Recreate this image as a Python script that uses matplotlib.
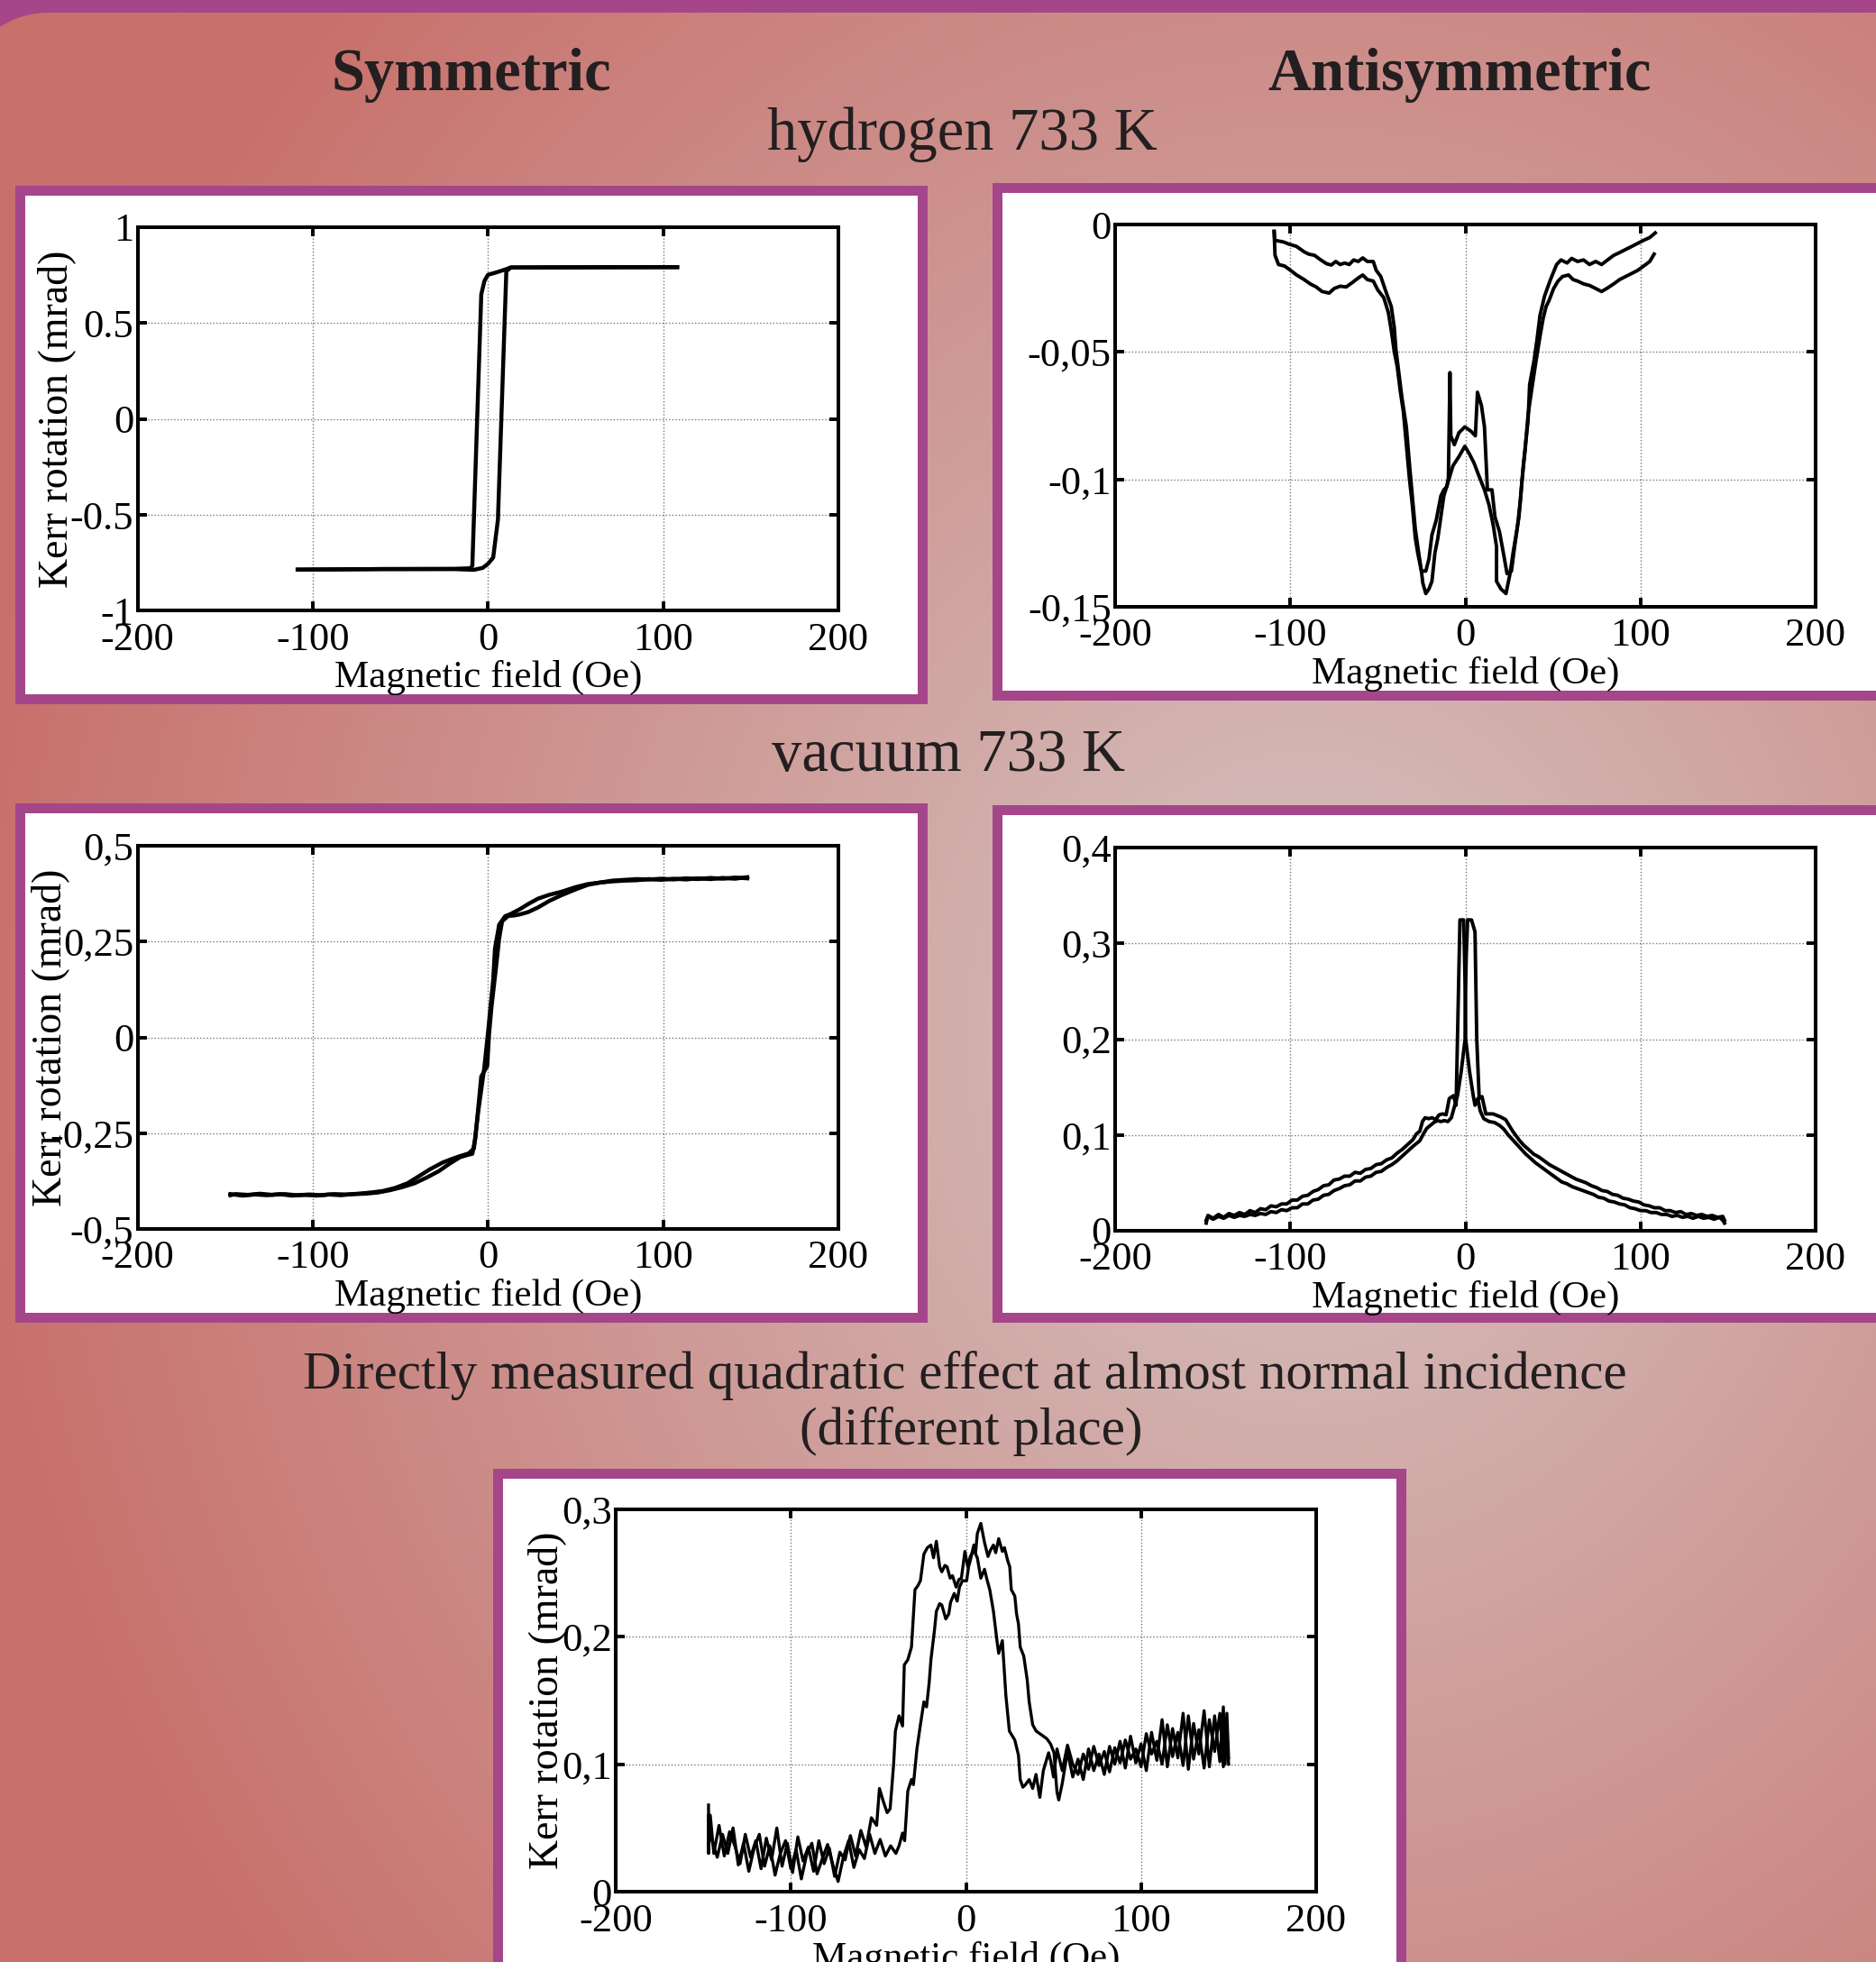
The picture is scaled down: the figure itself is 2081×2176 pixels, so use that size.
import numpy as np
import matplotlib
matplotlib.use('Agg')
import matplotlib.pyplot as plt
from matplotlib.patches import Rectangle, Polygon

plt.rcParams['font.family'] = ['Liberation Serif', 'DejaVu Serif']

# ---- data (field in Oe, Kerr rotation in mrad) ----
field_ticks = [-200, -100, 0, 100, 200]
field_labels = ['-200', '-100', '0', '100', '200']

# symmetric, hydrogen 733 K
sym_h_down = [(108, 0.792), (70, 0.791), (30, 0.790), (13, 0.790), (10, 0.780), (5, 0.765),
              (0, 0.752), (-2, 0.72), (-3.8, 0.65), (-8.9, -0.765), (-10, -0.778),
              (-20, -0.781), (-60, -0.782), (-108.6, -0.785)]
sym_h_up = [(-108.6, -0.785), (-60, -0.782), (-20, -0.782), (-8, -0.786), (-3, -0.776),
            (0, -0.755), (3, -0.722), (5.7, -0.525), (10.5, 0.77), (13, 0.79),
            (30, 0.791), (70, 0.792), (108, 0.792)]

# antisymmetric, hydrogen 733 K
anti_h_a = [(-109.2, -0.0027), (-108.9, -0.0062), (-104.1, -0.0068), (-100.7, -0.0077),
            (-96.4, -0.0086), (-92.1, -0.0107), (-89.5, -0.0116), (-86.1, -0.0121),
            (-82.6, -0.0139), (-79.2, -0.0154), (-76.6, -0.0159), (-74.0, -0.0145),
            (-71.5, -0.0157), (-68.9, -0.0151), (-66.3, -0.0157), (-63.8, -0.0139),
            (-61.2, -0.0145), (-58.6, -0.0131), (-56.0, -0.0145), (-52.6, -0.0145),
            (-50.9, -0.0180), (-48.3, -0.0204), (-45.7, -0.0257), (-42.3, -0.0322),
            (-40.6, -0.0404), (-39.7, -0.0487), (-38.0, -0.0581), (-36.3, -0.0676),
            (-33.7, -0.0794), (-32.0, -0.0935), (-30.3, -0.1065), (-28.6, -0.1194),
            (-26.9, -0.1277), (-25.1, -0.1360), (-24.3, -0.1407), (-22.6, -0.1448),
            (-20.8, -0.1430), (-19.1, -0.1400), (-17.4, -0.1289), (-15.7, -0.1230),
            (-14.0, -0.1147), (-12.3, -0.1065), (-9.7, -0.1006), (-7.1, -0.0947),
            (-3.7, -0.0911), (-0.3, -0.0870), (2.3, -0.0900), (4.9, -0.0935),
            (7.5, -0.0982), (10.9, -0.1041), (13.5, -0.1100), (16.0, -0.1183),
            (17.8, -0.1265), (17.8, -0.1400), (20.3, -0.1430), (23.2, -0.1448),
            (25.5, -0.1370), (27.2, -0.1290), (28.9, -0.1220), (30.6, -0.1147),
            (32.3, -0.1006), (34.1, -0.0888), (35.8, -0.0746), (38.3, -0.0628),
            (40.9, -0.0511), (42.6, -0.0440), (44.4, -0.0369), (46.1, -0.0322),
            (47.8, -0.0298), (50.4, -0.0251), (52.9, -0.0222), (55.5, -0.0204),
            (58.9, -0.0198), (61.5, -0.0216), (64.1, -0.0222), (67.5, -0.0233),
            (70.9, -0.0239), (74.4, -0.0251), (77.8, -0.0263), (81.2, -0.0249),
            (84.7, -0.0233), (88.1, -0.0216), (91.5, -0.0204), (95.0, -0.0192),
            (98.4, -0.0180), (101.8, -0.0163), (105.3, -0.0145), (107.8, -0.0116)]
anti_h_b = [(-109.2, -0.0027), (-108.7, -0.0121), (-106.7, -0.0157), (-103.2, -0.0163),
            (-99.8, -0.0180), (-96.4, -0.0198), (-92.1, -0.0216), (-88.6, -0.0233),
            (-85.2, -0.0245), (-81.8, -0.0263), (-77.8, -0.0269), (-74.9, -0.0251),
            (-71.5, -0.0242), (-68.1, -0.0245), (-64.6, -0.0228), (-61.2, -0.0210),
            (-58.6, -0.0198), (-56.0, -0.0216), (-52.6, -0.0222), (-50.0, -0.0257),
            (-46.6, -0.0287), (-44.0, -0.0345), (-42.3, -0.0416), (-40.6, -0.0499),
            (-38.9, -0.0558), (-37.2, -0.0652), (-35.4, -0.0735), (-33.7, -0.0864),
            (-32.0, -0.0994), (-30.3, -0.1100), (-28.6, -0.1230), (-27.2, -0.1289),
            (-25.1, -0.1360), (-22.6, -0.1360), (-20.8, -0.1312), (-19.1, -0.1218),
            (-16.6, -0.1159), (-14.0, -0.1065), (-12.3, -0.1041), (-10.6, -0.1029),
            (-9.7, -0.0994), (-8.8, -0.0581), (-8.3, -0.0829), (-6.3, -0.0864),
            (-3.7, -0.0817), (-0.3, -0.0794), (3.2, -0.0811), (5.7, -0.0829),
            (6.9, -0.0658), (9.2, -0.0711), (10.9, -0.0794), (12.6, -0.1041),
            (15.2, -0.1041), (16.9, -0.1147), (19.5, -0.1206), (22.0, -0.1300),
            (23.8, -0.1370), (26.3, -0.1360), (28.1, -0.1265), (29.8, -0.1183),
            (31.5, -0.1077), (33.2, -0.0935), (35.8, -0.0770), (36.7, -0.0628),
            (39.2, -0.0534), (40.9, -0.0452), (42.6, -0.0357), (45.2, -0.0281),
            (48.6, -0.0216), (52.1, -0.0157), (54.6, -0.0139), (58.1, -0.0151),
            (60.7, -0.0133), (64.1, -0.0145), (67.5, -0.0139), (70.9, -0.0157),
            (74.4, -0.0145), (77.8, -0.0157), (81.2, -0.0139), (84.7, -0.0121),
            (88.1, -0.0110), (91.5, -0.0098), (95.0, -0.0086), (98.4, -0.0074),
            (101.8, -0.0062), (105.3, -0.0051), (108.4, -0.0033)]

# symmetric, vacuum 733 K
sym_v_up = [(-147, -0.409), (-140, -0.413), (-133, -0.410), (-126, -0.412), (-119, -0.409),
            (-112, -0.413), (-105, -0.411), (-98, -0.413), (-91, -0.410), (-84, -0.412),
            (-77, -0.409), (-70, -0.408), (-63, -0.405), (-56, -0.399), (-49, -0.391),
            (-42, -0.381), (-35, -0.366), (-28, -0.349), (-22, -0.330), (-16, -0.313),
            (-11, -0.306), (-8.9, -0.304), (-7.2, -0.264), (-3.8, -0.102), (-0.4, -0.075),
            (0.6, 0.006), (2.0, 0.078), (4.7, 0.186), (6.4, 0.258), (8.1, 0.303),
            (11.6, 0.317), (15, 0.318), (18.4, 0.321), (23, 0.327), (28.6, 0.339),
            (35, 0.356), (42, 0.371), (50, 0.386), (57, 0.398), (64, 0.404), (71, 0.409),
            (78, 0.411), (85, 0.413), (92, 0.412), (99, 0.414), (106, 0.412), (113, 0.415),
            (120, 0.413), (127, 0.416), (134, 0.414), (141, 0.417), (148, 0.415)]
sym_v_down = [(148, 0.418), (141, 0.414), (134, 0.416), (127, 0.413), (120, 0.415),
              (113, 0.412), (106, 0.414), (99, 0.411), (92, 0.413), (85, 0.410),
              (78, 0.409), (71, 0.407), (64, 0.404), (57, 0.400), (50, 0.392), (42, 0.380),
              (35, 0.372), (28.6, 0.362), (23, 0.348), (18.4, 0.335), (13, 0.322),
              (9.8, 0.316), (6.4, 0.294), (4.0, 0.231), (3.0, 0.150), (-0.1, 0.006),
              (-2.2, -0.084), (-5.5, -0.192), (-8, -0.290), (-11, -0.303), (-16, -0.310),
              (-21, -0.318), (-26, -0.327), (-33, -0.344), (-39.6, -0.363), (-46, -0.381),
              (-53, -0.393), (-60, -0.401), (-67, -0.405), (-74, -0.408), (-81, -0.410),
              (-88, -0.409), (-95, -0.412), (-102, -0.410), (-109, -0.412), (-116, -0.409),
              (-123, -0.411), (-130, -0.408), (-137, -0.411), (-144, -0.409), (-147, -0.412)]

# antisymmetric, vacuum 733 K
anti_v_a = [(-148, 0.008), (-147, 0.016), (-144, 0.013), (-141, 0.017), (-138, 0.014),
            (-135, 0.018), (-132, 0.016), (-129, 0.019), (-126, 0.017), (-123, 0.021),
            (-120, 0.019), (-117, 0.023), (-114, 0.022), (-111, 0.026), (-108, 0.025),
            (-105, 0.028), (-102, 0.028), (-99, 0.032), (-96, 0.032), (-93, 0.036),
            (-90, 0.037), (-87, 0.041), (-84, 0.043), (-81, 0.047), (-78, 0.048),
            (-75, 0.053), (-72, 0.054), (-69, 0.057), (-66, 0.057), (-63, 0.061),
            (-60, 0.060), (-57, 0.064), (-54, 0.065), (-51, 0.069), (-48, 0.070),
            (-45, 0.074), (-42, 0.076), (-39, 0.081), (-36, 0.085), (-33, 0.090),
            (-30, 0.095), (-28, 0.101), (-26, 0.104), (-24.5, 0.114), (-23, 0.118),
            (-21, 0.117), (-19, 0.118), (-17, 0.116), (-15, 0.121), (-13, 0.122),
            (-11, 0.121), (-9.2, 0.138), (-6.8, 0.141), (-5.3, 0.131), (-3.1, 0.3245),
            (-1.0, 0.3245), (-0.5, 0.287), (0, 0.242), (0.1, 0.201), (2.4, 0.166),
            (4.5, 0.141), (5.5, 0.131), (7.1, 0.138), (8.5, 0.125), (10.5, 0.117),
            (13.6, 0.114), (16.6, 0.113), (19.5, 0.110), (22, 0.106), (24.5, 0.100),
            (27, 0.095), (29.5, 0.090), (32, 0.085), (34.5, 0.080), (37, 0.076),
            (40, 0.071), (43, 0.067), (46, 0.063), (49, 0.059), (52, 0.055), (55, 0.051),
            (58, 0.049), (61, 0.046), (64, 0.044), (67, 0.042), (70, 0.040), (73, 0.038),
            (76, 0.035), (79, 0.034), (82, 0.031), (85, 0.030), (88, 0.028), (91, 0.027),
            (94, 0.024), (97, 0.023), (100, 0.021), (103, 0.021), (106, 0.019),
            (109, 0.019), (112, 0.017), (115, 0.017), (118, 0.015), (121, 0.016),
            (124, 0.014), (127, 0.015), (130, 0.013), (133, 0.015), (136, 0.013),
            (139, 0.014), (142, 0.012), (145, 0.014), (147, 0.011), (148, 0.008)]
anti_v_b = [(-148, 0.011), (-147, 0.015), (-144, 0.012), (-141, 0.015), (-138, 0.013),
            (-135, 0.016), (-132, 0.014), (-129, 0.016), (-126, 0.015), (-123, 0.017),
            (-120, 0.016), (-117, 0.018), (-114, 0.017), (-111, 0.020), (-108, 0.019),
            (-105, 0.022), (-102, 0.021), (-99, 0.024), (-96, 0.024), (-93, 0.028),
            (-90, 0.028), (-87, 0.032), (-84, 0.033), (-81, 0.037), (-78, 0.038),
            (-75, 0.042), (-72, 0.044), (-69, 0.047), (-66, 0.048), (-63, 0.052),
            (-60, 0.052), (-57, 0.056), (-54, 0.057), (-51, 0.061), (-48, 0.062),
            (-45, 0.066), (-42, 0.069), (-39, 0.073), (-36, 0.078), (-33, 0.083),
            (-30, 0.088), (-28, 0.091), (-26, 0.094), (-24, 0.101), (-22, 0.107),
            (-20, 0.110), (-18, 0.113), (-16, 0.115), (-14, 0.114), (-12, 0.115),
            (-10, 0.114), (-8, 0.118), (-6.5, 0.128), (-4.5, 0.141), (-2.4, 0.166),
            (-0.1, 0.201), (0, 0.242), (0.5, 0.287), (1.3, 0.3245), (3.5, 0.3245),
            (5.5, 0.312), (6.5, 0.200), (7.9, 0.138), (9.5, 0.140), (11.7, 0.122),
            (15.8, 0.122), (19.9, 0.119), (23, 0.116), (25, 0.110), (27, 0.104),
            (29, 0.099), (31, 0.094), (33.5, 0.089), (36, 0.085), (39, 0.080), (42, 0.077),
            (45, 0.073), (48, 0.069), (51, 0.066), (54, 0.063), (57, 0.060), (60, 0.057),
            (63, 0.054), (66, 0.052), (69, 0.050), (72, 0.047), (75, 0.045), (78, 0.042),
            (81, 0.041), (84, 0.038), (87, 0.037), (90, 0.034), (93, 0.033), (96, 0.031),
            (99, 0.030), (102, 0.027), (105, 0.026), (108, 0.024), (111, 0.024),
            (114, 0.021), (117, 0.021), (120, 0.019), (123, 0.020), (126, 0.017),
            (129, 0.018), (132, 0.016), (135, 0.017), (138, 0.015), (141, 0.016),
            (144, 0.014), (147, 0.015), (148, 0.011)]

# quadratic effect, almost normal incidence
quad_left = [(-147, 0.068), (-147, 0.030), (-146, 0.060), (-144, 0.030), (-141, 0.052),
             (-138, 0.028), (-135, 0.047), (-132, 0.036), (-129, 0.022), (-126, 0.045),
             (-123, 0.027), (-120, 0.040), (-117, 0.018), (-114, 0.042), (-111, 0.025),
             (-108, 0.050), (-105, 0.020), (-102, 0.038), (-99, 0.015), (-96, 0.043),
             (-93, 0.024), (-90, 0.035), (-87, 0.016), (-84, 0.040), (-81, 0.022),
             (-78, 0.034), (-75, 0.012), (-72, 0.031), (-69, 0.025), (-66, 0.044),
             (-63, 0.028), (-60, 0.048), (-57, 0.035), (-54, 0.058), (-51, 0.052),
             (-49.4, 0.081), (-47, 0.070), (-45, 0.062), (-43.3, 0.065), (-41.3, 0.100),
             (-40.3, 0.126), (-38.2, 0.138), (-36.2, 0.130), (-35.2, 0.178), (-33.2, 0.182),
             (-31.1, 0.192), (-29.1, 0.237), (-27.5, 0.240), (-26, 0.244), (-24, 0.265),
             (-22, 0.270), (-20, 0.272), (-18.5, 0.262), (-16.9, 0.275), (-15, 0.255),
             (-13.8, 0.251), (-12, 0.256), (-10.8, 0.255), (-9, 0.246), (-7.7, 0.248),
             (-5.6, 0.239), (-4, 0.245), (-2.6, 0.246), (-0.6, 0.267), (1, 0.255),
             (2.5, 0.263), (4.5, 0.268), (6.5, 0.262), (8.5, 0.246), (10.6, 0.253),
             (12, 0.245), (13.6, 0.237), (15.7, 0.220), (17.7, 0.197), (18.7, 0.187),
             (20.8, 0.197), (22.8, 0.154), (24.8, 0.126), (27.9, 0.119), (30, 0.107),
             (31, 0.088), (32.5, 0.082), (34, 0.084), (36.1, 0.088), (38.1, 0.081),
             (40, 0.092), (42.2, 0.074), (44.2, 0.095), (47.2, 0.109), (48.5, 0.102),
             (50, 0.090), (52, 0.112), (55, 0.095), (58, 0.115), (61, 0.100), (64, 0.092),
             (67, 0.108), (70, 0.096), (73, 0.114), (76, 0.099), (79, 0.110), (82, 0.094),
             (85, 0.113), (88, 0.101), (91, 0.119), (94, 0.104), (97, 0.112), (100, 0.098),
             (103, 0.124), (106, 0.108), (109, 0.118), (112, 0.100), (115, 0.131),
             (118, 0.106), (121, 0.125), (124, 0.099), (127, 0.138), (130, 0.104),
             (133, 0.127), (136, 0.097), (139, 0.135), (142, 0.110), (145, 0.140),
             (147, 0.098), (148.5, 0.135), (150, 0.100)]
quad_right = [(-147, 0.035), (-147, 0.060), (-145, 0.040), (-142, 0.027), (-139, 0.045),
              (-136, 0.030), (-133, 0.050), (-130, 0.021), (-127, 0.038), (-124, 0.016),
              (-121, 0.034), (-118, 0.045), (-115, 0.020), (-112, 0.036), (-109, 0.013),
              (-106, 0.030), (-103, 0.040), (-100, 0.018), (-97, 0.033), (-94, 0.010),
              (-91, 0.029), (-88, 0.038), (-85, 0.014), (-82, 0.026), (-79, 0.037),
              (-76, 0.021), (-73, 0.008), (-70, 0.027), (-67, 0.040), (-64, 0.019),
              (-61, 0.033), (-58, 0.026), (-55, 0.045), (-52, 0.030), (-49, 0.041),
              (-46, 0.028), (-43, 0.036), (-40, 0.030), (-38.2, 0.036), (-36.2, 0.046),
              (-35, 0.040), (-33.2, 0.079), (-31.1, 0.088), (-30, 0.084), (-28, 0.112),
              (-26, 0.131), (-24, 0.149), (-22.5, 0.145), (-21, 0.164), (-20, 0.182),
              (-17.9, 0.206), (-16.9, 0.220), (-15, 0.226), (-13.8, 0.225), (-11.5, 0.214),
              (-9.8, 0.218), (-8.8, 0.227), (-6.7, 0.234), (-5, 0.228), (-3.7, 0.239),
              (-2, 0.244), (0.4, 0.244), (1.5, 0.255), (2.5, 0.260), (4.5, 0.272),
              (5.5, 0.266), (6.5, 0.281), (8.5, 0.289), (10.6, 0.274), (12.6, 0.263),
              (14, 0.268), (15.7, 0.272), (17, 0.266), (18.7, 0.277), (20.8, 0.267),
              (22, 0.270), (23.8, 0.260), (25, 0.255), (25.9, 0.237), (27.9, 0.232),
              (28.9, 0.218), (30, 0.210), (31, 0.192), (33, 0.185), (35, 0.166),
              (35.5, 0.158), (36.1, 0.149), (38.1, 0.131), (40.1, 0.126), (43.2, 0.123),
              (46.2, 0.120), (48.3, 0.116), (50.3, 0.109), (51.3, 0.090), (52, 0.078),
              (53, 0.072), (55, 0.085), (58, 0.110), (61, 0.090), (64, 0.104), (67, 0.088),
              (70, 0.112), (73, 0.095), (76, 0.108), (79, 0.092), (82, 0.114), (85, 0.100),
              (88, 0.118), (91, 0.097), (94, 0.122), (97, 0.101), (100, 0.116), (103, 0.095),
              (106, 0.125), (109, 0.103), (112, 0.135), (115, 0.098), (118, 0.128),
              (121, 0.105), (124, 0.140), (127, 0.096), (130, 0.132), (133, 0.108),
              (136, 0.142), (139, 0.098), (142, 0.138), (145, 0.102), (147, 0.145),
              (148, 0.100), (149, 0.140), (150, 0.105)]

# ---- page layout ----
W, H = 2081, 2176
PURPLE = '#a5468a'
INK = '#231f20'

fig = plt.figure(figsize=(W / 100, H / 100), dpi=100)

bg = fig.add_axes([0, 0, 1, 1])
yy, xx = np.mgrid[0:H:8, 0:W:8]
t = np.clip(np.sqrt(((xx - 1450) / 1500.0) ** 2 + ((yy - 1150) / 1700.0) ** 2), 0, 1)
light = np.array([213, 196, 194]) / 255.0
dark = np.array([200, 112, 107]) / 255.0
bg.imshow(light + (dark - light) * t[..., None], extent=(0, W, H, 0),
          interpolation='bilinear', aspect='auto', zorder=0)
bg.set_xlim(0, W)
bg.set_ylim(H, 0)
bg.axis('off')

# top frame with rounded corner
ang = np.radians(np.linspace(-90, -122.7, 30))
corner = [(W, 0), (W, 14)] + list(zip(54 + 100 * np.cos(ang), 114 + 100 * np.sin(ang))) + [(0, 30), (0, 0)]
bg.add_patch(Polygon(corner, closed=True, fc=PURPLE, ec='none', zorder=2))


def panel(x0, y0, x1, y1, b=11):
    bg.add_patch(Rectangle((x0, y0), x1 - x0, y1 - y0, fc=PURPLE, ec='none', zorder=2))
    bg.add_patch(Rectangle((x0 + b, y0 + b), x1 - x0 - 2 * b, y1 - y0 - 2 * b,
                           fc='white', ec='none', zorder=3))


panel(17, 206, 1029, 781)
panel(1101, 203, 2120, 777)
panel(17, 891, 1029, 1467)
panel(1101, 893, 2120, 1467)
panel(547, 1629, 1560, 2220)

bg.text(523, 100, 'Symmetric', ha='center', va='baseline', fontsize=48,
        fontweight='bold', color=INK, zorder=5)
bg.text(1619, 100, 'Antisymmetric', ha='center', va='baseline', fontsize=48,
        fontweight='bold', color=INK, zorder=5)
bg.text(1067, 166, 'hydrogen 733 K', ha='center', va='baseline', fontsize=48,
        color=INK, zorder=5)
bg.text(1052, 855, 'vacuum 733 K', ha='center', va='baseline', fontsize=48,
        color=INK, zorder=5)
bg.text(1070, 1540, 'Directly measured quadratic effect at almost normal incidence',
        ha='center', va='baseline', fontsize=42.5, color=INK, zorder=5)
bg.text(1077, 1602, '(different place)', ha='center', va='baseline', fontsize=42.5,
        color=INK, zorder=5)


def add_ax(l, t, r, b):
    return fig.add_axes([l / W, 1 - b / H, (r - l) / W, (b - t) / H])


def style(ax, ylim, yticks, ylabels, ylabel_x=None):
    ax.set_xlim(-200, 200)
    ax.set_ylim(*ylim)
    ax.set_xticks(field_ticks, field_labels)
    ax.set_yticks(yticks, ylabels)
    ax.grid(True, linestyle=(0, (1, 1.6)), color='#777777', linewidth=1.0)
    ax.tick_params(direction='in', top=True, right=True, length=7, width=2.8,
                   labelsize=32)
    ax.tick_params(axis='x', pad=9)
    ax.tick_params(axis='y', pad=3)
    for s in ax.spines.values():
        s.set_linewidth(2.9)
    ax.set_xlabel('Magnetic field (Oe)', fontsize=31, va='center')
    ax.xaxis.set_label_coords(0.5, -0.175)
    if ylabel_x is not None:
        ax.set_ylabel('Kerr rotation (mrad)', fontsize=33, va='center')
        ax.yaxis.set_label_coords(ylabel_x, 0.5)


def trace(ax, pts, lw=2.8):
    p = np.array(pts)
    ax.plot(p[:, 0], p[:, 1], color='black', lw=lw)


ax1 = add_ax(152.5, 252, 930, 677.5)
style(ax1, (-1, 1), [-1, -0.5, 0, 0.5, 1], ['-1', '-0.5', '0', '0.5', '1'], -0.115)
trace(ax1, sym_h_down, 3.2)
trace(ax1, sym_h_up, 3.2)

ax2 = add_ax(1237, 249, 2014, 673)
style(ax2, (-0.15, 0), [-0.15, -0.1, -0.05, 0], ['-0,15', '-0,1', '-0,05', '0'])
trace(ax2, anti_h_a)
trace(ax2, anti_h_b)

ax3 = add_ax(152.5, 938, 930, 1363)
style(ax3, (-0.5, 0.5), [-0.5, -0.25, 0, 0.25, 0.5], ['-0,5', '-0,25', '0', '0,25', '0,5'], -0.125)
trace(ax3, sym_v_up, 3.2)
trace(ax3, sym_v_down, 3.2)

ax4 = add_ax(1237, 940, 2014, 1365)
style(ax4, (0, 0.4), [0, 0.1, 0.2, 0.3, 0.4], ['0', '0,1', '0,2', '0,3', '0,4'])
trace(ax4, anti_v_a)
trace(ax4, anti_v_b)

ax5 = add_ax(683, 1674, 1460, 2098)
style(ax5, (0, 0.3), [0, 0.1, 0.2, 0.3], ['0', '0,1', '0,2', '0,3'], -0.098)
trace(ax5, quad_left, 2.4)
trace(ax5, quad_right, 2.4)

fig.savefig('out.png', dpi=100)
